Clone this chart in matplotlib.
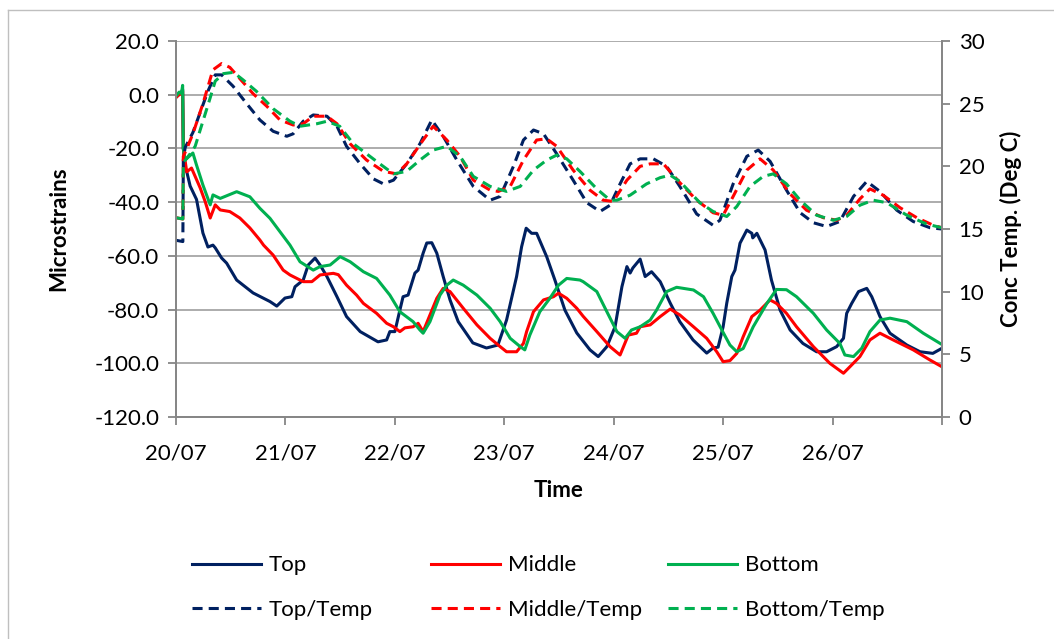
import matplotlib
matplotlib.use("Agg")
import matplotlib.pyplot as plt
from matplotlib.lines import Line2D
from matplotlib.ticker import FormatStrFormatter

# strain gauges (hours since 20/07 00:00, microstrain)
top_t = [0, 0.7, 1.2, 1.45, 1.6, 2.0, 2.4, 3.1, 4.5, 5.9, 7.0, 8.1, 8.6, 10.0, 11.1, 13.3, 16.9,
         20.6, 22.1, 23.9, 25.4, 26.1, 27.9, 29.0, 30.5, 31.6, 33.1, 35.3, 37.4, 40.4, 44.3,
         46.2, 46.9, 48.0, 49.1, 49.8, 50.9, 52.4, 53.1, 54.2, 55.0, 56.1, 57.2, 58.6, 60.1,
         61.9, 65.1, 68.1, 70.6, 72.5, 74.7, 75.8, 76.8, 78.0, 79.1, 81.3, 83.1, 85.3, 87.9,
         90.8, 92.6, 94.5, 96.3, 97.8, 98.9, 99.6, 100.2, 101.8, 102.9, 104.3, 106.2, 108.4,
         110.5, 113.4, 116.4, 117.8, 118.9, 120.0, 120.8, 121.9, 122.6, 123.7, 125.2, 126.3,
         126.5, 127.4, 129.2, 130.6, 132.5, 134.7, 137.5, 140.5, 142.7, 144.9, 146.4, 147.1,
         148.2, 149.7, 151.5, 152.6, 154.4, 156.6, 160.3, 163.2, 166.0, 168.0]
top_v = [-1, 0.5, 1, 2, -20, -27, -29, -34, -39, -51.5, -56.7, -56, -57, -60.8, -62.7, -69, -73.8,
         -77, -78.7, -75.7, -75.2, -71.5, -69, -63.4, -60.8, -63.4, -67.7, -75.2, -82.6, -88.2, -92,
         -91.3, -88.2, -88.2, -80.2, -75.2, -74.6, -66.4, -65.3, -59, -55.2, -55.1, -59, -67.7, -76.4,
         -84.5, -92.4, -94.3, -93.2, -83.9, -67.7, -56.6, -49.7, -51.6, -51.6, -60.3, -69, -80.2, -88.7,
         -95, -97.5, -93.8, -86.4, -71.5, -64, -66.4, -64.5, -61.2, -67.7, -65.9, -69.6, -77.6,
         -84.5, -91.3, -96.2, -94.3, -94, -86.4, -77.6, -67.7, -65.3, -55.3, -50.4, -51.6,
         -53.3, -51.6, -57.8, -69, -80.2, -87.6, -92.6, -95.7, -95.7, -93.8, -90.7, -81.4,
         -77.7, -73.3, -72.1, -75.2, -82.6, -88.8, -93.2, -95.7, -96.3, -94.4]

mid_t = [0, 0.7, 1.2, 1.45, 1.6, 2.35, 3.4, 5.3, 6.4, 7.5, 8.6, 9.7, 11.8, 14.0, 16.2, 18.4, 19.2,
         21.3, 23.5, 25.0, 27.9, 29.8, 31.6, 34.5, 35.6, 37.4, 39.6, 41.1, 44.0, 46.2, 47.7, 49.1,
         50.2, 52.0, 53.1, 54.2, 55.7, 57.2, 58.6, 60.1, 63.0, 66.0, 68.9, 71.1, 72.5, 74.7, 76.2,
         76.9, 78.4, 80.6, 82.8, 83.9, 85.7, 87.9, 89.3, 92.3, 95.2, 97.4, 99.2, 101.0, 101.8,
         104.0, 106.2, 108.4, 110.5, 113.5, 116.4, 118.6, 120.0, 121.5, 123.0, 124.4, 126.3,
         128.1, 130.3, 131.7, 133.9, 136.1, 139.8, 143.4, 146.4, 147.8, 150.0, 152.2, 154.4,
         157.3, 161.7, 165.4, 168.0]
mid_v = [-1, 0, 0.5, 1.5, -20, -28.7, -27.3, -34.7, -39.8, -45.9, -41, -42.9, -43.5, -45.9, -49.6,
         -54.1, -56, -59.7, -65.3, -67.1, -69.6, -69.6, -67.1, -66.5, -67, -70.9, -74.6, -77.7, -81.4,
         -85.1, -86.4, -88.2, -86.8, -86.4, -85.1, -88.2, -82, -75.8, -72.1, -73.3, -79.5, -85.7,
         -90.7, -93.8, -95.7, -95.7, -92.6, -88.2, -80.8, -76.4, -75.2, -73.9, -75.8, -79.5, -82.5,
         -88.2, -93.8, -96.9, -89.5, -88.8, -86.4, -85.7, -82.6, -79.8, -82, -86.4, -90.7, -95.7,
         -99.4, -99, -96.3, -90.1, -82.6, -80.2, -76.4, -77.7, -81.4, -86.4, -93.8, -100, -103.7,
         -101.3, -97.5, -91.3, -88.8, -91.3, -95, -98.8, -101.3]

bot_t = [0, 0.7, 1.2, 1.45, 1.6, 2.0, 3.7, 4.5, 5.9, 7.5, 8.1, 9.7, 13.3, 16.2, 18.4, 20.6, 22.8,
         25.0, 27.2, 30.1, 31.6, 33.8, 36.0, 38.2, 41.1, 44.0, 46.9, 49.1, 52.0, 53.5, 54.2, 55.7,
         57.9, 59.4, 60.8, 63.0, 66.0, 68.9, 71.1, 73.3, 75.5, 76.5, 77.6, 79.8, 82.0, 83.9, 85.7,
         88.6, 89.3, 92.3, 94.5, 96.7, 98.5, 99.9, 101.8, 104.0, 105.4, 107.6, 109.8, 113.5,
         115.7, 117.8, 120.0, 121.5, 123.0, 124.4, 126.6, 129.6, 131.7, 133.9, 136.1, 139.8,
         142.7, 145.6, 146.7, 148.6, 150.4, 152.2, 154.4, 156.6, 160.3, 163.9, 167.6, 168.0]
bot_v = [-0.5, 1, 0.5, 3.5, -20, -24.3, -21.7, -26.2, -33.6, -41, -37.3, -38.6, -36.1, -38, -42.3,
         -46, -51, -56, -62.2, -65.3, -64, -63.4, -60.3, -62.2, -65.9, -68.4, -74.6, -80.8, -84.5,
         -87.6, -88.8, -84.5, -74.6, -70.9, -69, -70.9, -74.6, -79.5, -84.5, -90.7, -93.8, -95,
         -89.5, -80.8, -75.8, -70.9, -68.4, -69, -69.6, -73.3, -80.8, -88.2, -90.7, -87.6, -86.4,
         -83.9, -80.2, -73.3, -71.7, -72.7, -75.2, -81.4, -88.5, -93.2, -95.7, -94.5, -86.4,
         -77.7, -72.5, -72.6, -75.2, -81.4, -87.6, -92.6, -96.9, -97.5, -94.4, -88.2, -83.9,
         -83.2, -84.5, -88.8, -92.6, -93]

# concrete temperature at each gauge (deg C)
top_temp_t = [0, 1.5, 1.6, 2.0, 3.7, 5.3, 7.0, 8.6, 10.0, 12.5, 15.5, 18.4, 21.3, 24.3, 25.7, 27.9,
              30.1, 33.1, 35.3, 37.4, 40.4, 43.3, 45.5, 47.7, 50.6, 53.5, 56.1, 58.6, 61.6, 65.2,
              68.9, 71.1, 74.0, 76.2, 78.4, 80.6, 83.5, 87.1, 90.1, 93.0, 95.2, 97.4, 99.6, 101.8,
              104.7, 107.6, 110.5, 114.2, 117.8, 119.3, 122.2, 125.2, 127.7, 130.3, 133.9, 136.9,
              139.8, 142.7, 145.6, 148.6, 151.5, 154.4, 158.1, 161.7, 165.4, 168.0]
top_temp_v = [14.1, 14.0, 20.5, 21.5, 22.7, 24.3, 26.0, 27.3, 27.3, 26.4, 25.0, 23.7, 22.8, 22.4,
              22.6, 23.6, 24.1, 24.0, 23.2, 21.6, 20.2, 19.0, 18.6, 18.9, 20.2, 21.8, 23.7, 22.4,
              20.5, 18.4, 17.3, 17.6, 20.0, 22.1, 22.9, 22.6, 21.0, 18.9, 17.1, 16.4, 16.9, 18.6,
              20.2, 20.6, 20.6, 20.0, 18.4, 16.2, 15.3, 15.7, 18.6, 20.8, 21.3, 20.4, 18.1, 16.3,
              15.5, 15.2, 15.6, 17.6, 18.8, 18.0, 16.5, 15.6, 15.1, 15.0]

mid_temp_t = [0, 1.5, 1.6, 2.35, 3.7, 5.9, 8.1, 10.0, 11.8, 14.0, 16.9, 19.9, 22.8, 25.7, 27.9,
              30.1, 33.1, 35.3, 38.2, 41.8, 45.5, 48.4, 50.6, 54.2, 56.4, 59.4, 62.3, 65.2, 68.9,
              70.7, 73.3, 76.2, 79.1, 81.3, 83.5, 87.1, 90.8, 93.7, 95.9, 98.9, 101.8, 104.0,
              106.9, 110.5, 114.2, 117.8, 120.0, 122.2, 125.2, 128.1, 131.0, 134.7, 138.3, 142.0,
              144.9, 147.1, 150.0, 152.2, 155.1, 158.8, 162.5, 166.1, 168.0]
mid_temp_v = [15.9, 15.8, 20.8, 21.4, 22.6, 25.0, 27.7, 28.2, 27.9, 27.0, 25.8, 24.8, 23.7, 23.3,
              23.4, 24.0, 24.0, 23.4, 21.8, 20.5, 19.6, 19.4, 20.2, 22.1, 23.2, 22.1, 20.8, 18.9,
              18.1, 18.0, 18.4, 20.5, 22.1, 22.2, 21.6, 19.7, 18.1, 17.3, 17.2, 18.9, 20.0, 20.2,
              20.2, 18.7, 17.3, 16.3, 16.1, 17.6, 19.7, 20.6, 19.7, 17.8, 16.5, 15.9, 15.7, 16.1,
              17.4, 18.2, 17.7, 16.7, 15.9, 15.3, 15.1]

bot_temp_t = [0, 1.5, 1.6, 3.1, 4.2, 5.3, 7.1, 8.6, 10.4, 12.6, 14.7, 17.6, 21.3, 25.0, 27.2, 30.9,
              33.1, 35.9, 38.9, 41.8, 44.7, 47.7, 50.6, 53.5, 56.4, 59.4, 62.3, 65.2, 68.9, 72.5,
              75.5, 78.4, 81.3, 83.5, 85.7, 88.6, 92.3, 95.2, 96.7, 99.6, 103.2, 106.2, 108.4,
              110.5, 114.9, 117.8, 120.8, 123.0, 125.9, 128.8, 131.0, 133.9, 136.9, 140.5, 144.2,
              147.1, 150.0, 152.9, 155.9, 160.3, 164.6, 168.0]
bot_temp_v = [15.9, 15.8, 20.3, 21.0, 21.6, 22.9, 25.0, 26.8, 27.4, 27.5, 26.9, 26.0, 24.6, 23.6,
              23.2, 23.4, 23.6, 23.2, 21.8, 21.0, 20.2, 19.4, 19.6, 20.5, 21.3, 21.6, 20.8, 19.2,
              18.4, 18.0, 18.4, 19.7, 20.5, 20.9, 20.6, 19.6, 18.2, 17.3, 17.3, 17.7, 18.6, 19.1,
              19.3, 18.8, 17.1, 16.4, 16.0, 16.8, 18.4, 19.2, 19.4, 18.6, 17.3, 16.1, 15.7, 16.0,
              16.9, 17.3, 17.1, 16.1, 15.4, 15.1]

day_ticks = [0, 24, 48, 72, 96, 120, 144, 168]
day_labels = ["20/07", "21/07", "22/07", "23/07", "24/07", "25/07", "26/07", ""]

NAVY, RED, GREEN = "#002060", "#FF0000", "#00B050"
GRID = "#A6A6A6"
SPINE = "#868686"

plt.rcParams["font.family"] = ["Lato", "DejaVu Sans"]
plt.rcParams["axes.unicode_minus"] = False
FS = 16

fig = plt.figure(figsize=(10.54, 6.39), dpi=100)
# chart-area frame: only the top and left edges fall inside the canvas
frame_top = 1 - 10 / 639
fig.add_artist(Line2D([0.008, 1.0], [frame_top, frame_top], transform=fig.transFigure,
                      color="#BFBFBF", lw=1.0))
fig.add_artist(Line2D([0.008, 0.008], [0.0, frame_top], transform=fig.transFigure,
                      color="#BFBFBF", lw=1.0))

ax = fig.add_axes([0.167, 0.3474, 0.7267, 0.5884])
ax2 = ax.twinx()

lw = 2.2
l_top, = ax.plot(top_t, top_v, color=NAVY, lw=lw, label="Top")
l_mid, = ax.plot(mid_t, mid_v, color=RED, lw=lw, label="Middle")
l_bot, = ax.plot(bot_t, bot_v, color=GREEN, lw=lw, label="Bottom")

dash = (3.3, 2.0)
d_top, = ax2.plot(top_temp_t, top_temp_v, color=NAVY, lw=lw, dashes=dash, label="Top/Temp")
d_mid, = ax2.plot(mid_temp_t, mid_temp_v, color=RED, lw=lw, dashes=dash, label="Middle/Temp")
d_bot, = ax2.plot(bot_temp_t, bot_temp_v, color=GREEN, lw=lw, dashes=dash, label="Bottom/Temp")

ax.set_xlim(0, 168)
ax.set_ylim(-120, 20)
ax.set_yticks(range(-120, 21, 20))
ax.yaxis.set_major_formatter(FormatStrFormatter("%.1f"))
ax2.set_ylim(0, 30)
ax2.set_yticks(range(0, 31, 5))
ax.set_xticks(day_ticks)
ax.set_xticklabels(day_labels)

ax.grid(axis="y", color=GRID, lw=1.3)
ax.set_axisbelow(True)
for a in (ax, ax2):
    for s in a.spines.values():
        s.set_color(SPINE)
        s.set_linewidth(1.3)
    a.spines["top"].set_visible(False)
    a.tick_params(colors=SPINE, labelcolor="black", labelsize=FS, length=6, width=1.3)
ax.tick_params(axis="x", pad=13)
ax.tick_params(axis="y", pad=6)
ax2.tick_params(axis="y", pad=6)

ax.set_ylabel("Microstrains", fontsize=FS, fontweight="bold", labelpad=18)
ax2.set_ylabel("Conc Temp. (Deg C)", fontsize=FS, fontweight="bold", labelpad=11)
ax.set_xlabel("Time", fontsize=FS, fontweight="bold", labelpad=12)

# one legend per gauge column, two rows each
cols = [((l_top, d_top), 0.182), ((l_mid, d_mid), 0.409), ((l_bot, d_bot), 0.634)]
for handles, x0 in cols:
    fig.legend(handles=list(handles), loc="upper left", bbox_to_anchor=(x0, 0.131),
               bbox_transform=fig.transFigure, frameon=False, fontsize=FS,
               handlelength=3.1, handletextpad=0.35, labelspacing=1.12,
               borderaxespad=0, borderpad=0)

fig.savefig("out.png", dpi=100)
